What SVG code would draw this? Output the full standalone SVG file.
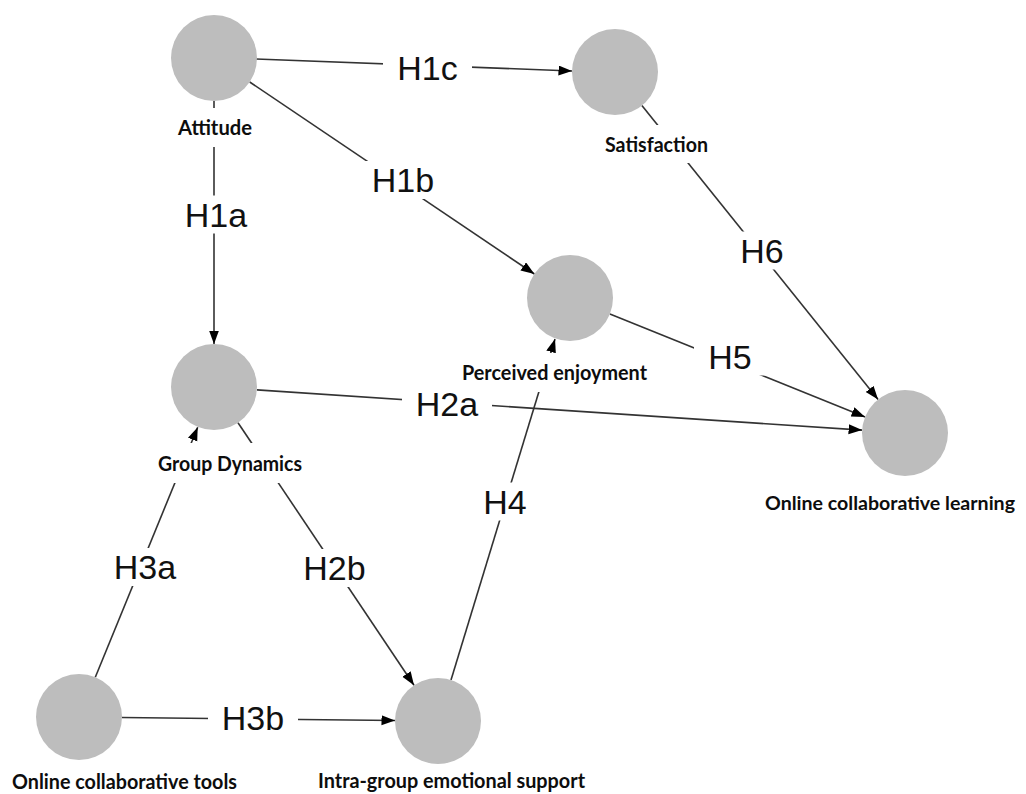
<svg xmlns="http://www.w3.org/2000/svg" width="1026" height="794" viewBox="0 0 1026 794">
  <style>
    .node { fill: #bdbdbd; }
    .nlbl { font-family: "Lato", "Open Sans", "Liberation Sans", sans-serif; font-weight: 700; font-size: 20.5px; fill: #0d0d0d; }
    .hlbl { font-family: "Liberation Sans", Arial, sans-serif; font-size: 34px; fill: #111111; text-anchor: middle; }
    .bg { fill: #ffffff; }
    .edge { stroke: #333333; stroke-width: 1.6; fill: none; marker-end: url(#arr); }
  </style>
  <defs>
    <marker id="arr" markerUnits="userSpaceOnUse" markerWidth="15" markerHeight="11" refX="13.5" refY="5" orient="auto">
      <path d="M0,0 L13.5,5 L0,10 Z" fill="#000000"/>
    </marker>
  </defs>
  <rect width="1026" height="794" fill="#ffffff"/>

  <g id="connectors">
    <line class="edge" x1="256" y1="59" x2="572" y2="71"/>
    <line class="edge" x1="249.7" y1="82" x2="534.4" y2="274"/>
    <line class="edge" x1="214" y1="101" x2="214" y2="344"/>
    <line class="edge" x1="256.9" y1="389.9" x2="862.1" y2="430.1"/>
    <line class="edge" x1="609.9" y1="314.1" x2="865.1" y2="416.9"/>
    <line class="edge" x1="641.9" y1="105.5" x2="878.1" y2="399.5"/>
    <line class="edge" x1="95.3" y1="677.2" x2="197.7" y2="427.2"/>
    <line class="edge" x1="238" y1="422.7" x2="414" y2="685.3"/>
    <line class="edge" x1="122" y1="717.5" x2="395" y2="720.5"/>
    <line class="edge" x1="451" y1="680" x2="555" y2="339"/>
  </g>

  <g id="edge-labels">
    <g id="lbl-H1c"><rect class="bg" x="383" y="48.5" width="89" height="38"/><text class="hlbl" x="427.5" y="79.7">H1c</text></g>
    <g id="lbl-H1b"><rect class="bg" x="358" y="161" width="90" height="38"/><text class="hlbl" x="403" y="192.2">H1b</text></g>
    <g id="lbl-H1a"><rect class="bg" x="171" y="195.5" width="90" height="38"/><text class="hlbl" x="216" y="226.7">H1a</text></g>
    <g id="lbl-H2a"><rect class="bg" x="402" y="384.5" width="90" height="38"/><text class="hlbl" x="447" y="415.7">H2a</text></g>
    <g id="lbl-H5"><rect class="bg" x="694" y="337.5" width="72" height="38"/><text class="hlbl" x="730" y="368.7">H5</text></g>
    <g id="lbl-H6"><rect class="bg" x="726" y="231.5" width="72" height="38"/><text class="hlbl" x="762" y="262.7">H6</text></g>
    <g id="lbl-H3a"><rect class="bg" x="100" y="548" width="90" height="38"/><text class="hlbl" x="145" y="579.2">H3a</text></g>
    <g id="lbl-H2b"><rect class="bg" x="289.5" y="549" width="90" height="38"/><text class="hlbl" x="334.5" y="580.2">H2b</text></g>
    <g id="lbl-H4"><rect class="bg" x="469" y="482.5" width="72" height="38"/><text class="hlbl" x="505" y="513.7">H4</text></g>
    <g id="lbl-H3b"><rect class="bg" x="208" y="699" width="90" height="38"/><text class="hlbl" x="253" y="730.2">H3b</text></g>
  </g>

  <g id="node-attitude">
    <circle class="node" cx="214" cy="58" r="43"/>
    <rect class="bg" x="174" y="108" width="82" height="39"/>
    <text class="nlbl" x="178" y="135" textLength="74" lengthAdjust="spacingAndGlyphs">Attitude</text>
  </g>
  <g id="node-satisfaction">
    <circle class="node" cx="615" cy="72" r="43"/>
    <rect class="bg" x="601" y="125" width="111" height="38"/>
    <text class="nlbl" x="605" y="152" textLength="103" lengthAdjust="spacingAndGlyphs">Satisfaction</text>
  </g>
  <g id="node-perceived-enjoyment">
    <circle class="node" cx="570" cy="298" r="43"/>
    <rect class="bg" x="458" y="353" width="193" height="39"/>
    <text class="nlbl" x="462" y="380" textLength="185" lengthAdjust="spacingAndGlyphs">Perceived enjoyment</text>
  </g>
  <g id="node-group-dynamics">
    <circle class="node" cx="214" cy="387" r="43"/>
    <rect class="bg" x="154" y="443" width="152" height="40"/>
    <text class="nlbl" x="158" y="471" textLength="144" lengthAdjust="spacingAndGlyphs">Group Dynamics</text>
  </g>
  <g id="node-online-collaborative-learning">
    <circle class="node" cx="905" cy="433" r="43"/>
    <text class="nlbl" x="765" y="510" style="font-size:19.5px" textLength="250" lengthAdjust="spacingAndGlyphs">Online collaborative learning</text>
  </g>
  <g id="node-online-collaborative-tools">
    <circle class="node" cx="79" cy="717" r="43"/>
    <text class="nlbl" x="12" y="789" textLength="225" lengthAdjust="spacingAndGlyphs">Online collaborative tools</text>
  </g>
  <g id="node-intra-group-emotional-support">
    <circle class="node" cx="438" cy="721" r="43"/>
    <text class="nlbl" x="318" y="788" textLength="267" lengthAdjust="spacingAndGlyphs">Intra-group emotional support</text>
  </g>
</svg>
